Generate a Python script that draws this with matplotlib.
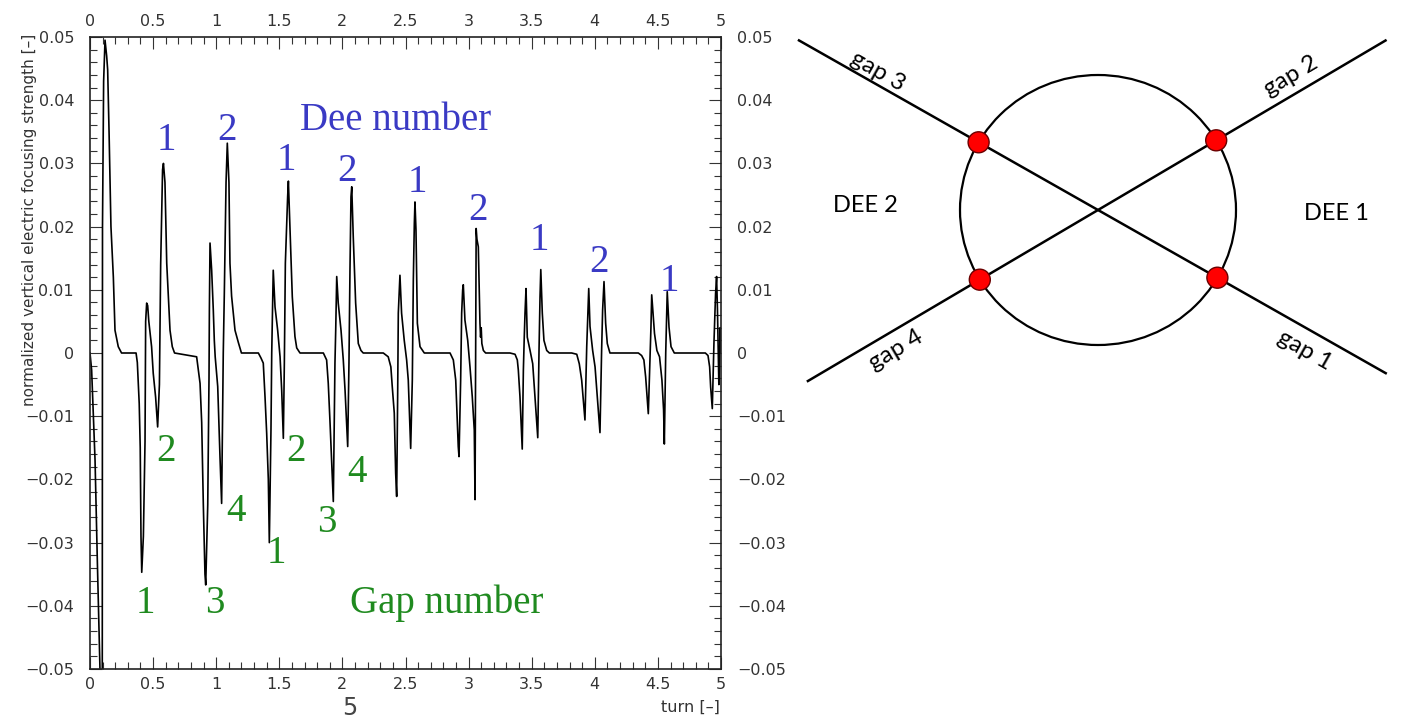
import numpy as np
import matplotlib.pyplot as plt
from matplotlib.patches import Ellipse, Circle


# focusing strength, one passage (half turn) per row
turn = [
    0.000, 0.013, 0.040, 0.058, 0.079, 0.090, 0.097, 0.099, 0.108, 0.119, 0.132, 0.140, 0.151, 0.166, 0.185, 0.198, 0.224, 0.250,
    0.365, 0.375, 0.381, 0.390, 0.398, 0.404, 0.410, 0.423, 0.436, 0.441, 0.449, 0.457, 0.466, 0.488, 0.501, 0.520, 0.536, 0.550, 0.560, 0.575, 0.582, 0.594, 0.608, 0.634, 0.652, 0.670,
    0.845, 0.872, 0.885, 0.898, 0.911, 0.917, 0.933, 0.943, 0.946, 0.951, 0.964, 0.977, 0.985, 0.992, 1.012, 1.030, 1.043, 1.056, 1.064, 1.078, 1.088, 1.101, 1.109, 1.122, 1.149, 1.175, 1.200,
    1.334, 1.355, 1.373, 1.387, 1.400, 1.413, 1.421, 1.434, 1.440, 1.448, 1.452, 1.466, 1.487, 1.506, 1.519, 1.532, 1.540, 1.548, 1.566, 1.572, 1.585, 1.603, 1.624, 1.638, 1.664,
    1.849, 1.875, 1.888, 1.902, 1.915, 1.928, 1.941, 1.947, 1.955, 1.967, 1.989, 2.007, 2.021, 2.042, 2.052, 2.060, 2.068, 2.074, 2.086, 2.105, 2.126, 2.147, 2.165,
    2.324, 2.363, 2.384, 2.395, 2.411, 2.422, 2.430, 2.438, 2.443, 2.451, 2.456, 2.469, 2.490, 2.509, 2.522, 2.541, 2.554, 2.562, 2.570, 2.575, 2.583, 2.594, 2.615, 2.649,
    2.853, 2.879, 2.898, 2.906, 2.918, 2.924, 2.937, 2.945, 2.953, 2.958, 2.971, 2.993, 3.011, 3.029, 3.045, 3.051, 3.055, 3.060, 3.066, 3.077, 3.090, 3.095, 3.100, 3.105, 3.117, 3.135,
    3.328, 3.368, 3.386, 3.394, 3.407, 3.415, 3.425, 3.434, 3.441, 3.447, 3.455, 3.465, 3.487, 3.508, 3.526, 3.548, 3.558, 3.566, 3.572, 3.584, 3.597, 3.619, 3.640,
    3.817, 3.857, 3.877, 3.896, 3.909, 3.922, 3.936, 3.944, 3.952, 3.962, 3.983, 4.002, 4.020, 4.041, 4.054, 4.062, 4.073, 4.086, 4.099, 4.120,
    4.345, 4.371, 4.389, 4.403, 4.416, 4.424, 4.437, 4.445, 4.451, 4.473, 4.492, 4.513, 4.532, 4.545, 4.551, 4.562, 4.570, 4.574, 4.588, 4.604, 4.630,
    4.876, 4.897, 4.910, 4.918, 4.931, 4.944, 4.957, 4.965, 4.972, 4.978, 4.983, 4.988, 4.993, 5.000,
]
strength = [
    0.0, -0.0027, -0.017, -0.0328, -0.050, -0.060, -0.060, 0.020, 0.043, 0.0495, 0.047, 0.0448, 0.035, 0.020, 0.012, 0.0036, 0.001, 0.0,
    0.0, -0.0015, -0.004, -0.008, -0.015, -0.029, -0.0347, -0.029, -0.014, 0.005, 0.0079, 0.0075, 0.005, 0.001, -0.0032, -0.007, -0.0117, -0.005, 0.014, 0.029, 0.030, 0.027, 0.0142, 0.0036, 0.001, 0.0,
    -0.0006, -0.0048, -0.011, -0.024, -0.035, -0.0367, -0.024, -0.004, 0.0068, 0.0174, 0.0131, 0.0068, 0.002, -0.0006, -0.0053, -0.0164, -0.0238, 0.0, 0.009, 0.027, 0.0332, 0.027, 0.0142, 0.009, 0.0036, 0.0017, 0.0,
    0.0, -0.0008, -0.0016, -0.007, -0.0127, -0.020, -0.030, -0.0122, 0.0, 0.0089, 0.0131, 0.0073, 0.0036, -0.0006, -0.0059, -0.0135, -0.0016, 0.0142, 0.0247, 0.0272, 0.0195, 0.0089, 0.0026, 0.0008, 0.0,
    0.0, -0.0011, -0.0048, -0.011, -0.0174, -0.0235, -0.0016, 0.0036, 0.0121, 0.0079, 0.0036, -0.0011, -0.0059, -0.0148, -0.0016, 0.0131, 0.0247, 0.0263, 0.0184, 0.0079, 0.0015, 0.0004, 0.0,
    0.0, -0.0006, -0.0022, -0.0053, -0.0095, -0.019, -0.0227, -0.0064, 0.0063, 0.010, 0.0123, 0.0063, 0.002, -0.0011, -0.0043, -0.0151, -0.0043, 0.0115, 0.0205, 0.0239, 0.0195, 0.0047, 0.001, 0.0,
    0.0, -0.0011, -0.0043, -0.0085, -0.0148, -0.0164, -0.0043, 0.0063, 0.010, 0.0108, 0.0052, 0.002, -0.0022, -0.0069, -0.0122, -0.0232, -0.005, 0.0197, 0.018, 0.0168, 0.0047, 0.0025, 0.004, 0.0015, 0.0004, 0.0,
    0.0, -0.0002, -0.0011, -0.0027, -0.0069, -0.0106, -0.0152, -0.0027, 0.0025, 0.0063, 0.0102, 0.0025, 0.0004, -0.0017, -0.0069, -0.0134, 0.0004, 0.0089, 0.0132, 0.0063, 0.002, 0.0004, 0.0,
    0.0, -0.0002, -0.0017, -0.0043, -0.0075, -0.0106, 0.001, 0.0057, 0.0102, 0.0042, 0.0004, -0.0022, -0.0069, -0.0126, 0.0004, 0.0068, 0.0113, 0.0047, 0.0015, 0.0,
    0.0, -0.0004, -0.0011, -0.0038, -0.0075, -0.0096, -0.0011, 0.0041, 0.0092, 0.0031, 0.0004, -0.0006, -0.0043, -0.009, -0.0144, 0.0, 0.0068, 0.0097, 0.0041, 0.001, 0.0,
    0.0, -0.0004, -0.0022, -0.0054, -0.0088, 0.0015, 0.0094, 0.0121, 0.0068, 0.0, -0.005, -0.002, 0.004, 0.0,
]

# dee numbers (blue) and gap numbers (green) written on the plot
dee_text = ['1', '2', '1', '2', '1', '2', '1', '2', '1']
dee_turn = [0.602, 1.083, 1.558, 2.034, 2.595, 3.074, 3.557, 4.033, 4.588]
dee_level = [0.0321, 0.0337, 0.0290, 0.0272, 0.0255, 0.0210, 0.0163, 0.0128, 0.0098]

gap_text = ['1', '2', '3', '4', '1', '2', '3', '4']
gap_turn = [0.436, 0.602, 0.990, 1.159, 1.479, 1.632, 1.875, 2.115]
gap_level = [-0.0411, -0.0171, -0.0411, -0.0266, -0.0332, -0.0171, -0.0283, -0.0204]

x_ticks = [0, 0.5, 1, 1.5, 2, 2.5, 3, 3.5, 4, 4.5, 5]
x_tick_labels = ['0', '0.5', '1', '1.5', '2', '2.5', '3', '3.5', '4', '4.5', '5']
y_ticks = [-0.05, -0.04, -0.03, -0.02, -0.01, 0, 0.01, 0.02, 0.03, 0.04, 0.05]
y_tick_labels = ['\u22120.05', '\u22120.04', '\u22120.03', '\u22120.02', '\u22120.01', '0',
                 '0.01', '0.02', '0.03', '0.04', '0.05']

W, H = 1401, 725
fig = plt.figure(figsize=(W / 100, H / 100), dpi=100, facecolor='white')

# ---- left: focusing strength vs turn
ax = fig.add_axes([90 / W, (H - 669) / H, 631 / W, 632 / H])
ax.plot(turn, strength, color='black', lw=1.2)
ax.set_xlim(0, 5)
ax.set_ylim(-0.05, 0.05)

ax.set_xticks(x_ticks, x_tick_labels)
ax.set_yticks(y_ticks, y_tick_labels)
ax.set_xticks(np.round(np.arange(0, 5.001, 0.1), 3), minor=True)
ax.set_yticks(np.round(np.arange(-0.05, 0.0501, 0.002), 4), minor=True)

ax.tick_params(which='both', direction='in', top=True, right=True,
               labeltop=True, labelright=True, colors='#333333',
               labelcolor='#333333', width=0.8)
ax.tick_params(which='major', length=8.5)
ax.tick_params(which='minor', length=5)
ax.tick_params(axis='x', which='major', pad=6, labelsize=11.5)
ax.tick_params(axis='y', which='major', pad=11.5, labelsize=11.5)
for s in ax.spines.values():
    s.set_linewidth(1.2)
    s.set_color('#222222')

for txt, t, v in zip(dee_text, dee_turn, dee_level):
    ax.text(t, v, txt, color='#3a3ac4', fontsize=28, family='Liberation Serif',
            ha='center', va='baseline')
for txt, t, v in zip(gap_text, gap_turn, gap_level):
    ax.text(t, v, txt, color='#1f8a1f', fontsize=28, family='Liberation Serif',
            ha='center', va='baseline')
ax.text(2.421, 0.0353, 'Dee number', color='#3a3ac4', fontsize=28,
        family='Liberation Serif', ha='center', va='baseline')
ax.text(2.826, -0.0411, 'Gap number', color='#1f8a1f', fontsize=28,
        family='Liberation Serif', ha='center', va='baseline')

fig.text(30 / W, 1 - 220 / H, 'normalized vertical electric focusing strength [\u2013]',
         rotation=90, ha='center', va='center', fontsize=11, color='#333333')
fig.text(720 / W, (H - 712) / H, 'turn [\u2013]', ha='right', va='baseline',
         fontsize=11.5, color='#333333')
fig.text(350 / W, (H - 715) / H, '5', ha='center', va='baseline',
         fontsize=17, color='#444444')

# ---- right: sketch of the two dees and four gaps (pixel coordinates)
axd = fig.add_axes([760 / W, 0, (W - 760) / W, 1])
axd.set_xlim(760, W)
axd.set_ylim(H, 0)
axd.axis('off')

hub = (1098, 210)
ring_w, ring_h = 276, 270
gap_angle = [29.56, -30.52]          # direction of the two gap lines
gap_reach = [(-345, 332), (-338, 335)]

axd.add_patch(Ellipse(hub, ring_w, ring_h, fill=False, lw=1.6, ec='black'))
for ang, (s0, s1) in zip(gap_angle, gap_reach):
    c, s = np.cos(np.radians(ang)), np.sin(np.radians(ang))
    axd.plot([hub[0] + s0 * c, hub[0] + s1 * c], [hub[1] + s0 * s, hub[1] + s1 * s],
             color='black', lw=1.8, solid_capstyle='butt')
    r = 1 / np.sqrt((c / (ring_w / 2)) ** 2 + (s / (ring_h / 2)) ** 2)
    for sign in (-1, 1):
        axd.add_patch(Circle((hub[0] + sign * r * c, hub[1] + sign * r * s), 10.5,
                             fc='#ff0000', ec='#6a0000', lw=1.0, zorder=3))

gap_names = ['gap 3', 'gap 2', 'gap 4', 'gap 1']
gap_label_x = [878, 1291, 896, 1305]
gap_label_y = [71, 76, 350, 350]
gap_label_rot = [-29.6, 30.5, 30.5, -29.6]
for name, x, y, rot in zip(gap_names, gap_label_x, gap_label_y, gap_label_rot):
    axd.text(x, y, name, rotation=rot, ha='center', va='center',
             fontsize=17.5, family='Lato', color='black')
axd.text(865, 205, 'DEE 2', ha='center', va='center', fontsize=17, family='Lato')
axd.text(1336, 213, 'DEE 1', ha='center', va='center', fontsize=17, family='Lato')

fig.savefig('out.png', dpi=100, facecolor='white')
